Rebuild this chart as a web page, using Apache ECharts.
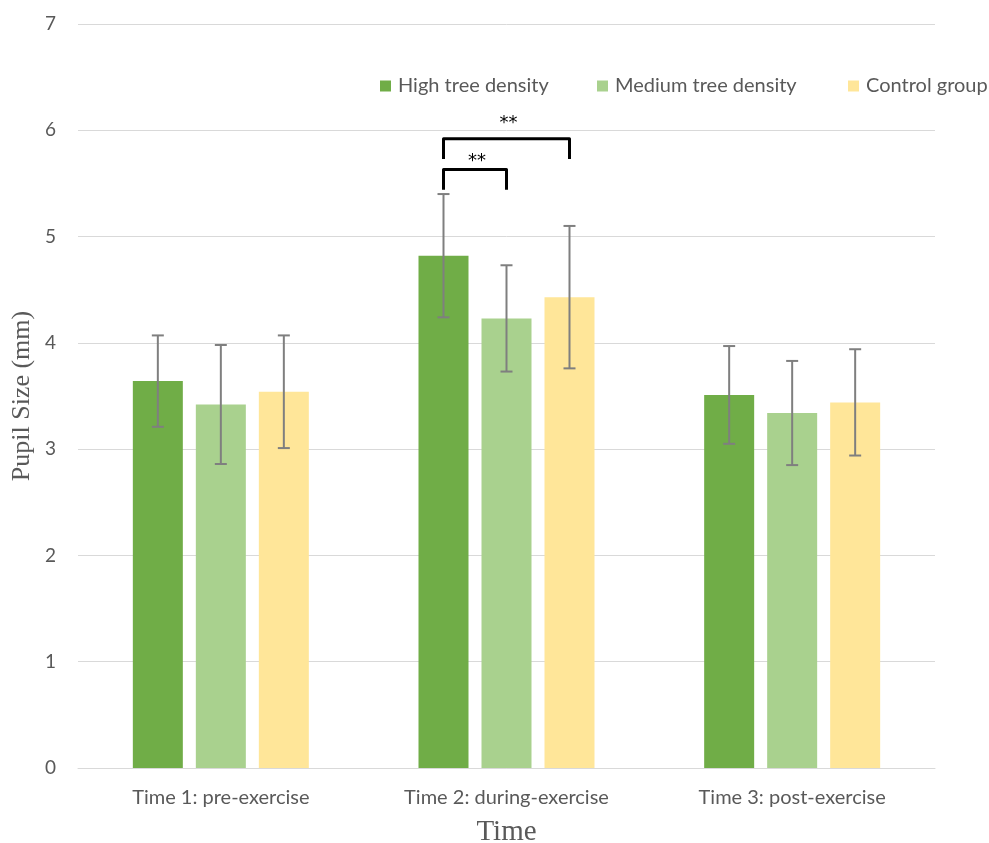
<!DOCTYPE html>
<html>
<head>
<meta charset="utf-8">
<script src="https://cdn.jsdelivr.net/npm/echarts@6/dist/echarts.min.js"></script>
<style>
  html, body { margin: 0; padding: 0; background: #fff; }
  #chart { width: 989px; height: 843px; }
</style>
</head>
<body>
<div id="chart"></div>
<script>
// Pupil size by time point and tree-density group
const categories = ['Time 1: pre-exercise', 'Time 2: during-exercise', 'Time 3: post-exercise'];
const groupNames = ['High tree density', 'Medium tree density', 'Control group'];

const highMeans = [3.64, 4.82, 3.51];
const highLow   = [3.21, 4.24, 3.05];
const highHigh  = [4.07, 5.40, 3.97];

const medMeans  = [3.42, 4.23, 3.34];
const medLow    = [2.86, 3.73, 2.85];
const medHigh   = [3.98, 4.73, 3.83];

const ctrlMeans = [3.54, 4.43, 3.44];
const ctrlLow   = [3.01, 3.76, 2.94];
const ctrlHigh  = [4.07, 5.10, 3.94];

const yTicks = [0, 1, 2, 3, 4, 5, 6, 7];

// significance brackets: category, first group, second group, bar level, leg end, label level, label
const brackets = [
  [1, 0, 1, 5.63, 5.44, 5.75, '**'],
  [1, 0, 2, 5.92, 5.73, 6.10, '**']
];

const colors = ['#70AD47', '#A9D18E', '#FFE699'];
const BAR_W = 50;
const BAR_GAP = 13;
const labelFont = 'Lato, "Open Sans", sans-serif';
const serifFont = '"Liberation Serif", "DejaVu Serif", serif';

function groupOffset(g) {
  return (g - 1) * (BAR_W + BAR_GAP);
}

function errorSeries(g, lows, highs) {
  return {
    type: 'custom',
    name: groupNames[g] + ' error',
    silent: true,
    z: 5,
    data: categories.map((c, i) => [i, lows[i], highs[i]]),
    encode: { x: 0, y: [1, 2] },
    renderItem: function (params, api) {
      const lo = api.coord([api.value(0), api.value(1)]);
      const hi = api.coord([api.value(0), api.value(2)]);
      const x = lo[0] + groupOffset(g);
      const cap = 6;
      const style = { stroke: '#7F7F7F', lineWidth: 2, fill: null };
      return {
        type: 'group',
        children: [
          { type: 'line', shape: { x1: x, y1: lo[1], x2: x, y2: hi[1] }, style: style },
          { type: 'line', shape: { x1: x - cap, y1: hi[1], x2: x + cap, y2: hi[1] }, style: style },
          { type: 'line', shape: { x1: x - cap, y1: lo[1], x2: x + cap, y2: lo[1] }, style: style }
        ]
      };
    }
  };
}

const bracketSeries = {
  type: 'custom',
  name: 'significance',
  silent: true,
  z: 6,
  data: brackets,
  encode: { x: 0, y: 3 },
  renderItem: function (params, api) {
    const b = brackets[params.dataIndex];
    const top = api.coord([b[0], b[3]]);
    const leg = api.coord([b[0], b[4]]);
    const lab = api.coord([b[0], b[5]]);
    const x1 = top[0] + groupOffset(b[1]);
    const x2 = top[0] + groupOffset(b[2]);
    return {
      type: 'group',
      children: [
        {
          type: 'polyline',
          shape: { points: [[x1, leg[1]], [x1, top[1]], [x2, top[1]], [x2, leg[1]]] },
          style: { stroke: '#000', lineWidth: 3, fill: null, lineJoin: 'round' }
        },
        {
          type: 'text',
          x: (x1 + x2) / 2 + 2,
          y: lab[1] + 4,
          style: {
            text: b[6],
            fill: '#000',
            font: '18px "DejaVu Sans", sans-serif',
            align: 'center',
            verticalAlign: 'middle'
          }
        }
      ]
    };
  }
};

function legendFor(g, left) {
  return {
    data: [groupNames[g]],
    left: left,
    top: 71,
    icon: 'rect',
    itemWidth: 11,
    itemHeight: 11,
    selectedMode: false,
    textStyle: { color: '#595959', fontSize: 20, fontFamily: labelFont, padding: [0, 0, 0, 2] }
  };
}

const chart = echarts.init(document.getElementById('chart'), null, { renderer: 'canvas' });
chart.setOption({
  backgroundColor: '#fff',
  animation: false,
  color: colors,
  grid: { left: 78, right: 54, top: 24, bottom: 75, containLabel: false, outerBoundsMode: 'none' },
  legend: [legendFor(0, 375), legendFor(1, 592), legendFor(2, 843)],
  xAxis: {
    type: 'category',
    data: categories,
    name: 'Time',
    nameLocation: 'middle',
    nameGap: 50,
    nameMoveOverlap: false,
    nameTextStyle: { color: '#595959', fontSize: 29, fontFamily: serifFont },
    axisLine: { lineStyle: { color: '#D9D9D9', width: 1 } },
    axisTick: { show: false },
    axisLabel: { color: '#595959', fontSize: 20, fontFamily: labelFont, margin: 20 }
  },
  yAxis: {
    type: 'value',
    min: yTicks[0],
    max: yTicks[yTicks.length - 1],
    interval: 1,
    name: 'Pupil Size (mm)',
    nameLocation: 'middle',
    nameGap: 43,
    nameRotate: 90,
    nameMoveOverlap: false,
    nameTextStyle: { color: '#595959', fontSize: 26, fontFamily: serifFont },
    axisLine: { show: false },
    axisTick: { show: false },
    axisLabel: { color: '#595959', fontSize: 19, fontFamily: labelFont, margin: 22 },
    splitLine: { lineStyle: { color: '#D9D9D9', width: 1 } }
  },
  series: [
    { type: 'bar', name: groupNames[0], data: highMeans, barWidth: BAR_W, barGap: '26%', itemStyle: { color: colors[0] } },
    { type: 'bar', name: groupNames[1], data: medMeans, barWidth: BAR_W, barGap: '26%', itemStyle: { color: colors[1] } },
    { type: 'bar', name: groupNames[2], data: ctrlMeans, barWidth: BAR_W, barGap: '26%', itemStyle: { color: colors[2] } },
    errorSeries(0, highLow, highHigh),
    errorSeries(1, medLow, medHigh),
    errorSeries(2, ctrlLow, ctrlHigh),
    bracketSeries
  ]
});
</script>
</body>
</html>
